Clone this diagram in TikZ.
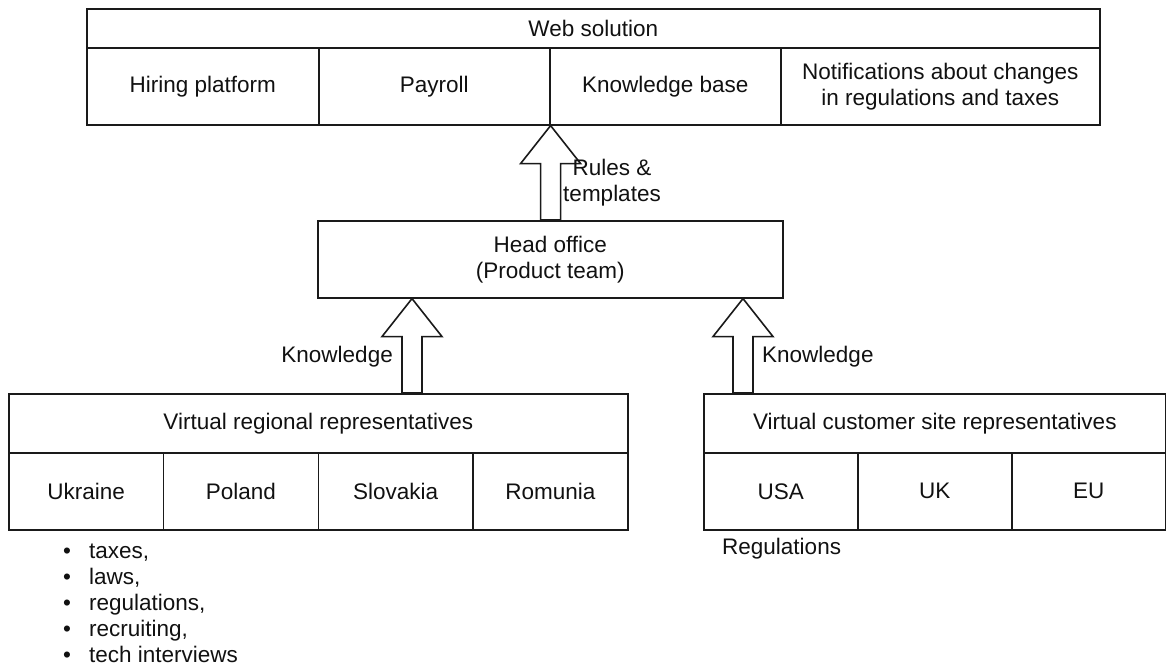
\documentclass[tikz,border=0pt]{standalone}
\usepackage{fontspec}
\setmainfont{Liberation Sans}
\usetikzlibrary{calc}
\definecolor{linecol}{HTML}{1A1A1A}
\definecolor{textcol}{HTML}{111111}
\newcommand{\blockarrow}[2]{% #1 = tail point, #2 = tip point
  \draw[arrowshape] ($(#1)+(-10,0)$) -- ($(#2)+(-10,38)$) -- ($(#2)+(-30,38)$) -- (#2)
    -- ($(#2)+(30,38)$) -- ($(#2)+(10,38)$) -- ($(#1)+(10,0)$) -- cycle;}
\begin{document}
\begin{tikzpicture}[x=1pt,y=-1pt,
  every node/.style={font=\fontsize{22.5}{26}\selectfont, text=textcol, inner sep=0pt},
  cell/.style={draw=linecol, line width=1.6pt, rectangle, anchor=north west,
    align=center, minimum height=77pt},
  headcell/.style={cell, minimum height=39pt},
  bandcell/.style={cell, minimum height=59pt},
  arrowshape/.style={draw=linecol, fill=white, line width=1.6pt, line join=miter},
  label/.style={align=center}
]
\useasboundingbox (0,0) rectangle (1166,671);

% Web solution
\node[headcell, minimum width=1013pt] (ws) at (86,8) {Web solution};
\node[cell, minimum width=232pt] (hp) at (86,47) {Hiring platform};
\node[cell, minimum width=231pt] (pay) at (318,47) {Payroll};
\node[cell, minimum width=231pt] (kb) at (549,47) {Knowledge base};
\node[cell, minimum width=319pt] (nt) at (780,47) {Notifications about changes\\in regulations and taxes};

% Head office
\node[cell, minimum width=465pt] (ho) at (317,220) {Head office\\(Product team)};

% Regional representatives
\node[bandcell, minimum width=619pt] (reg) at (8,393) {Virtual regional representatives};
\node[cell, minimum width=154.75pt] (ua) at (8,452) {Ukraine};
\node[cell, minimum width=154.75pt] (pl) at (162.75,452) {Poland};
\node[cell, minimum width=154.75pt] (sk) at (317.5,452) {Slovakia};
\node[cell, minimum width=154.75pt] (ro) at (472.25,452) {Romunia};

% Customer site representatives
\node[bandcell, minimum width=462pt] (cus) at (703,393) {Virtual customer site representatives};
\node[cell, minimum width=154pt] (us) at (703,452) {USA};
\node[cell, minimum width=154pt] (uk) at (857,452) {UK};
\node[cell, minimum width=154pt] (eu) at (1011,452) {EU};

% Block arrows
\coordinate (tipA) at (pay.south east);
\coordinate (tailA) at (tipA |- ho.north);
\coordinate (tipB) at ($(ho.south west)+(95,0)$);
\coordinate (tailB) at (tipB |- reg.north);
\coordinate (tipC) at ($(ho.south west)+(426,0)$);
\coordinate (tailC) at (tipC |- cus.north);
\blockarrow{tailA}{tipA}
\blockarrow{tailB}{tipB}
\blockarrow{tailC}{tipC}

% Arrow labels
\node[label] (rules) at (612,183) {Rules \&\\templates};
\node[anchor=east] (knl) at (393,357) {Knowledge};
\node[anchor=west] (knr) at (762,357) {Knowledge};

% Notes under the boxes
\node[anchor=west] (regs) at (722,549) {Regulations};
\node[anchor=base west] (topics) at (63,558) {%
  \begin{tabular}[t]{@{}l@{\hspace{18pt}}l@{}}
  \textbullet & taxes,\\
  \textbullet & laws,\\
  \textbullet & regulations,\\
  \textbullet & recruiting,\\
  \textbullet & tech interviews
  \end{tabular}};
\end{tikzpicture}
\end{document}
